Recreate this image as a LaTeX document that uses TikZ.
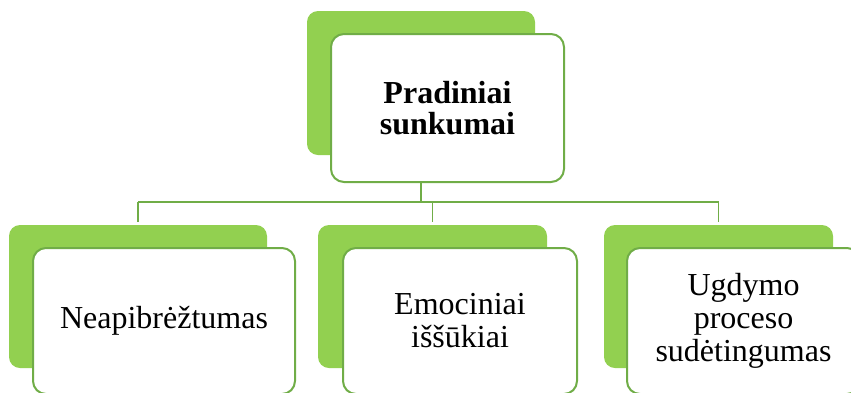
\documentclass[tikz,border=0pt]{standalone}
\usepackage{fontspec}
\setmainfont{Liberation Serif}
\definecolor{leafgreen}{HTML}{92D050}
\definecolor{edgegreen}{HTML}{70AD47}
\begin{document}
\begin{tikzpicture}[x=1pt,y=-1pt,
  backbox/.style={rectangle, rounded corners=11pt, fill=leafgreen, draw=none,
    inner sep=0pt, minimum height=144pt},
  frontbox/.style={rectangle, rounded corners=13pt, fill=white, draw=edgegreen,
    line width=2pt, inner sep=0pt, minimum height=146pt, align=center,
    font=\fontsize{32}{33}\selectfont},
  link/.style={draw=edgegreen, line width=1.2pt}]
  \useasboundingbox (0,0) rectangle (851,392);
  \clip (0,0) rectangle (851,392);

  % top level
  \node[backbox, minimum width=228pt] (tb) at (421,83) {};
  \node[frontbox, minimum width=233pt, minimum height=148pt,
        font=\fontsize{32}{31}\selectfont\bfseries] (tf) at (447.5,108)
        {Pradiniai\\sunkumai};

  % bottom level, back layers
  \node[backbox, minimum width=258pt, minimum height=143pt] (lb) at (138,296.5) {};
  \node[backbox, minimum width=229pt, minimum height=143pt] (mb) at (432.5,296.5) {};
  \node[backbox, minimum width=229pt, minimum height=143pt] (rb) at (718.5,296.5) {};

  % connectors
  \coordinate (hub) at (421,202);
  \draw[link] (tf.south -| hub) -- (hub);
  \draw[link] (lb.north |- hub) -- (rb.north |- hub);
  \draw[link, shorten >=3pt] (lb.north |- hub) -- (lb.north);
  \draw[link, shorten >=3pt] (mb.north |- hub) -- (mb.north);
  \draw[link, shorten >=3pt] (rb.north |- hub) -- (rb.north);

  % bottom level, front cards
  \node[frontbox, minimum width=262pt] (lf) at (164,321) {Neapibrėžtumas};
  \node[frontbox, minimum width=234pt] (mf) at (460,321) {Emociniai\\iššūkiai};
  \node[frontbox, minimum width=233pt] (rf) at (743.5,321) {Ugdymo\\proceso\\sudėtingumas};
\end{tikzpicture}
\end{document}
